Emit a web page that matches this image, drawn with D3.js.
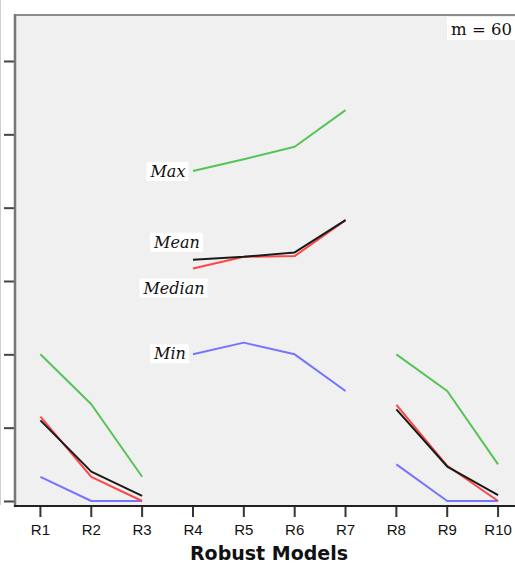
<!DOCTYPE html>
<html>
<head>
<meta charset="utf-8">
<script src="https://cdn.jsdelivr.net/npm/d3@7"></script>
<style>
html,body{margin:0;padding:0;background:#fff;}
svg{display:block;}
</style>
</head>
<body>
<svg id="chart" width="515" height="564"></svg>
<script>
const categories = ["R1","R2","R3","R4","R5","R6","R7","R8","R9","R10"];
const yTicks = [0,1,2,3,4,5,6];
const seriesMax    = [2.00,1.32,0.33, 4.50,4.66,4.83,5.33, 2.00,1.50,0.50];
const seriesMean   = [1.10,0.40,0.07, 3.29,3.33,3.39,3.83, 1.25,0.47,0.08];
const seriesMedian = [1.15,0.33,0.00, 3.17,3.33,3.34,3.83, 1.31,0.48,0.00];
const seriesMin    = [0.33,0.00,0.00, 2.00,2.16,2.00,1.50, 0.50,0.00,0.00];
const groups       = [1,1,1, 2,2,2,2, 3,3,3];
const seriesNames  = ["Max","Mean","Median","Min"];
const annotation   = "m = 60";
const xTitle       = "Robust Models";

const svg = d3.select("#chart");
const pLeft = 15, pTop = 15, pBottom = 506, pRight = 530;

const x = d3.scaleBand().domain(categories).range([pLeft, pLeft + 10*50.85]).padding(0);
const y = d3.scaleLinear().domain([0,6]).range([501, 61]);

// outer frame line
svg.append("line").attr("x1",0.5).attr("x2",0.5).attr("y1",0).attr("y2",505)
  .attr("stroke","#cfcfcf").attr("stroke-width",1);

// panel
svg.append("rect").attr("x",pLeft).attr("y",pTop).attr("width",pRight-pLeft).attr("height",pBottom-pTop)
  .attr("fill","#f0f0f0");
svg.append("line").attr("x1",pLeft-1).attr("x2",pRight).attr("y1",pTop).attr("y2",pTop)
  .attr("stroke","#8c8c8c").attr("stroke-width",2);

// y axis
const yAxis = d3.axisLeft(y).tickValues(yTicks).tickSize(11).tickFormat(()=> "");
const gy = svg.append("g").attr("transform",`translate(${pLeft},0)`).call(yAxis);
gy.select(".domain").remove();
gy.selectAll(".tick line").attr("stroke","#444").attr("stroke-width",2);
svg.append("line").attr("x1",pLeft).attr("x2",pLeft).attr("y1",pTop-1).attr("y2",pBottom+1)
  .attr("stroke","#777").attr("stroke-width",2.5);

// x axis
const xAxis = d3.axisBottom(x).tickSize(11).tickSizeOuter(0);
const gx = svg.append("g").attr("transform",`translate(0,${pBottom})`).call(xAxis);
gx.select(".domain").remove();
svg.append("line").attr("x1",pLeft-1).attr("x2",pRight).attr("y1",pBottom).attr("y2",pBottom)
  .attr("stroke","#222").attr("stroke-width",2);
gx.selectAll(".tick line").attr("stroke","#333").attr("stroke-width",2);
gx.selectAll(".tick text").attr("y",18).attr("dy","0.71em")
  .style("font-family","'Liberation Sans', Arial, sans-serif").style("font-size","15px").attr("fill","#111");

// x title
svg.append("text").attr("x",269).attr("y",560).attr("text-anchor","middle")
  .style("font-family","'DejaVu Sans', Verdana, sans-serif").style("font-weight","bold")
  .style("font-size","19px").attr("fill","#111").text(xTitle);

// lines
const line = d3.line()
  .defined(d => d.v !== null)
  .x(d => x(d.c) + x.bandwidth()/2)
  .y(d => y(d.v));

function build(vals){
  const out = [];
  vals.forEach((v,i) => {
    if (i>0 && groups[i] !== groups[i-1]) out.push({c:categories[i], v:null});
    out.push({c:categories[i], v:v});
  });
  return out;
}

const seriesData = [
  {name:"Max", vals:seriesMax, color:"#55c455"},
  {name:"Min", vals:seriesMin, color:"#7474ff"},
  {name:"Median", vals:seriesMedian, color:"#ff4545"},
  {name:"Mean", vals:seriesMean, color:"#1a1a1a"}
];
seriesData.forEach(s => {
  svg.append("path").datum(build(s.vals)).attr("d",line)
    .attr("fill","none").attr("stroke",s.color).attr("stroke-width",2)
    .attr("stroke-linejoin","round");
});

// series labels near R4
const labelOffsets = {Max:{dx:-25,dy:6}, Mean:{dx:-16,dy:-12}, Median:{dx:-19,dy:25}, Min:{dx:-23,dy:5}};
const valsByName = {Max:seriesMax, Mean:seriesMean, Median:seriesMedian, Min:seriesMin};
seriesNames.forEach(n => {
  const cx = x("R4") + x.bandwidth()/2 + labelOffsets[n].dx;
  const by = y(valsByName[n][3]) + labelOffsets[n].dy;
  const g = svg.append("g");
  const t = g.append("text").attr("x",cx).attr("y",by).attr("text-anchor","middle")
    .style("font-family","'DejaVu Serif', serif").style("font-style","italic")
    .style("font-size","16px").attr("fill","#111").text(n);
  const bb = t.node().getBBox();
  g.insert("rect","text").attr("x",bb.x-3).attr("y",bb.y).attr("width",bb.width+6).attr("height",bb.height)
    .attr("fill","#fff");
});

// m = 60 annotation
const ga = svg.append("g");
const ta = ga.append("text").attr("x",451).attr("y",35)
  .style("font-family","'DejaVu Serif', serif").style("font-size","16.5px").attr("fill","#111").text(annotation);
const tw = ta.node().getComputedTextLength();
if (451 + tw > 513) ta.attr("x", 513 - tw);
ga.insert("rect","text").attr("x",+ta.attr("x")-4).attr("y",17).attr("width",80).attr("height",23).attr("fill","#fff");
</script>
</body>
</html>
